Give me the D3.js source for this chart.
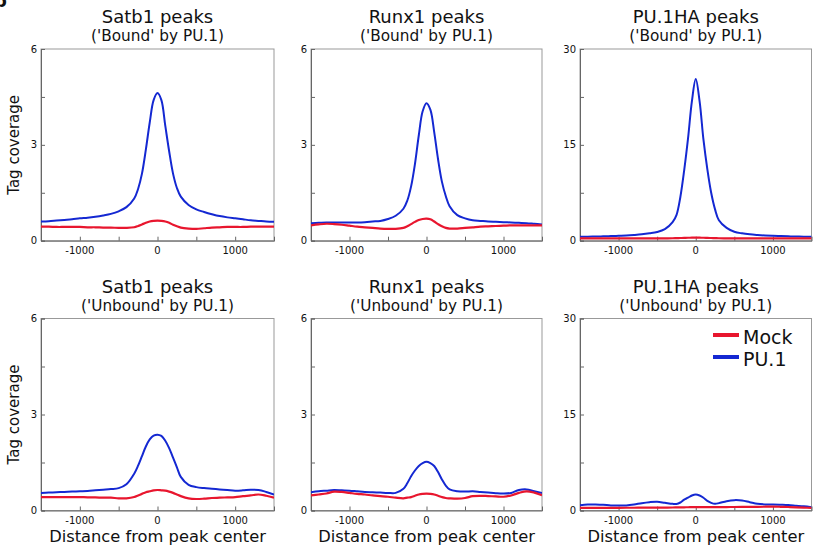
<!DOCTYPE html>
<html>
<head>
<meta charset="utf-8">
<script src="https://cdn.jsdelivr.net/npm/d3@7"></script>
<style>
  body { margin: 0; background: #fff; }
  svg { display: block; }
  text { font-family: "DejaVu Sans", Verdana, sans-serif; fill: #111; }
</style>
</head>
<body>
<div id="chart"></div>
<script>
// distance from peak center (bp)
const distance = [-1500, -1400, -1300, -1200, -1100, -1000, -900, -800, -700, -600, -500, -400, -300, -250, -200, -150, -100, -50,
  0, 50, 100, 150, 200, 250, 300, 400, 500, 600, 700, 800, 900, 1000, 1100, 1200, 1300, 1400, 1500];

// Satb1 peaks, 'Bound' by PU.1
const satb1BoundPU1 = [0.60, 0.61, 0.63, 0.65, 0.67, 0.70, 0.72, 0.75, 0.79, 0.84, 0.92, 1.05, 1.32, 1.62, 2.10, 2.85, 3.70, 4.40,
  4.62, 4.40, 3.60, 2.80, 2.10, 1.65, 1.38, 1.12, 0.98, 0.90, 0.83, 0.77, 0.73, 0.70, 0.67, 0.64, 0.62, 0.60, 0.59];
const satb1BoundMock = [0.44, 0.44, 0.43, 0.43, 0.43, 0.43, 0.42, 0.42, 0.41, 0.41, 0.40, 0.40, 0.42, 0.46, 0.51, 0.56, 0.60, 0.62,
  0.63, 0.62, 0.60, 0.56, 0.50, 0.45, 0.41, 0.38, 0.37, 0.39, 0.41, 0.42, 0.43, 0.43, 0.43, 0.44, 0.44, 0.44, 0.44];

// Runx1 peaks, 'Bound' by PU.1
const runx1BoundPU1 = [0.55, 0.56, 0.57, 0.57, 0.57, 0.57, 0.57, 0.58, 0.60, 0.62, 0.68, 0.78, 1.00, 1.25, 1.70, 2.40, 3.30, 4.05,
  4.30, 4.10, 3.40, 2.55, 1.85, 1.40, 1.08, 0.80, 0.70, 0.64, 0.62, 0.60, 0.59, 0.58, 0.57, 0.56, 0.55, 0.53, 0.51];
const runx1BoundMock = [0.48, 0.51, 0.53, 0.52, 0.50, 0.47, 0.44, 0.42, 0.40, 0.38, 0.37, 0.37, 0.40, 0.45, 0.52, 0.59, 0.65, 0.68,
  0.69, 0.67, 0.60, 0.52, 0.45, 0.40, 0.38, 0.38, 0.40, 0.42, 0.44, 0.45, 0.46, 0.47, 0.48, 0.48, 0.48, 0.48, 0.48];

// PU.1HA peaks, 'Bound' by PU.1
const pu1haBoundPU1 = [0.60, 0.62, 0.65, 0.68, 0.72, 0.77, 0.82, 0.90, 1.00, 1.15, 1.35, 1.80, 2.90, 4.00, 6.80, 11.0, 16.0, 21.8,
  25.3, 21.8, 15.8, 11.2, 7.50, 4.90, 3.20, 2.00, 1.40, 1.15, 1.00, 0.90, 0.82, 0.76, 0.72, 0.68, 0.65, 0.62, 0.60];
const pu1haBoundMock = [0.35, 0.35, 0.35, 0.35, 0.35, 0.35, 0.35, 0.35, 0.35, 0.35, 0.36, 0.37, 0.38, 0.40, 0.42, 0.44, 0.46, 0.47,
  0.48, 0.47, 0.46, 0.44, 0.42, 0.40, 0.38, 0.37, 0.36, 0.35, 0.35, 0.35, 0.35, 0.35, 0.35, 0.35, 0.35, 0.35, 0.35];

// Satb1 peaks, 'Unbound' by PU.1
const satb1UnboundPU1 = [0.55, 0.56, 0.57, 0.58, 0.59, 0.60, 0.61, 0.63, 0.65, 0.67, 0.70, 0.82, 1.15, 1.40, 1.70, 2.00, 2.22, 2.34,
  2.37, 2.33, 2.18, 1.95, 1.65, 1.35, 1.05, 0.80, 0.73, 0.70, 0.68, 0.66, 0.64, 0.62, 0.63, 0.65, 0.64, 0.58, 0.50];
const satb1UnboundMock = [0.42, 0.42, 0.42, 0.42, 0.42, 0.42, 0.41, 0.41, 0.40, 0.40, 0.38, 0.38, 0.42, 0.47, 0.52, 0.57, 0.60, 0.63,
  0.64, 0.63, 0.62, 0.59, 0.55, 0.50, 0.45, 0.38, 0.36, 0.37, 0.39, 0.40, 0.41, 0.42, 0.45, 0.47, 0.50, 0.46, 0.40];

// Runx1 peaks, 'Unbound' by PU.1
const runx1UnboundPU1 = [0.57, 0.60, 0.62, 0.64, 0.63, 0.62, 0.60, 0.58, 0.57, 0.56, 0.55, 0.55, 0.68, 0.85, 1.07, 1.25, 1.39, 1.48,
  1.52, 1.48, 1.39, 1.20, 0.97, 0.78, 0.66, 0.60, 0.59, 0.60, 0.58, 0.56, 0.54, 0.53, 0.55, 0.64, 0.66, 0.60, 0.55];
const runx1UnboundMock = [0.47, 0.50, 0.53, 0.59, 0.58, 0.55, 0.52, 0.50, 0.47, 0.45, 0.43, 0.40, 0.38, 0.40, 0.42, 0.46, 0.50, 0.52,
  0.53, 0.52, 0.50, 0.46, 0.42, 0.39, 0.38, 0.37, 0.39, 0.45, 0.46, 0.45, 0.44, 0.43, 0.47, 0.55, 0.60, 0.56, 0.48];

// PU.1HA peaks, 'Unbound' by PU.1
const pu1haUnboundPU1 = [0.83, 0.94, 0.92, 0.88, 0.80, 0.78, 0.80, 0.94, 1.15, 1.30, 1.36, 1.20, 1.04, 1.02, 1.25, 1.70, 2.00, 2.35,
  2.50, 2.35, 2.00, 1.50, 1.20, 1.05, 1.15, 1.46, 1.62, 1.56, 1.30, 1.04, 0.95, 0.94, 0.90, 0.85, 0.75, 0.65, 0.52];
const pu1haUnboundMock = [0.42, 0.42, 0.42, 0.42, 0.42, 0.42, 0.43, 0.43, 0.44, 0.44, 0.45, 0.46, 0.47, 0.48, 0.49, 0.50, 0.51, 0.52,
  0.52, 0.52, 0.52, 0.52, 0.52, 0.52, 0.53, 0.54, 0.55, 0.56, 0.57, 0.58, 0.59, 0.60, 0.58, 0.55, 0.50, 0.45, 0.40];

const panelTitles = ['Satb1 peaks', 'Runx1 peaks', 'PU.1HA peaks'];
const panelSubtitles = ["('Bound' by PU.1)", "('Unbound' by PU.1)"];
const yMax = [6, 6, 30];
const xTicks = [-1000, -500, 0, 500, 1000];
const xTickLabels = [-1000, 0, 1000];
const seriesNames = ['Mock', 'PU.1'];

const colors = { mock: '#e8162e', pu1: '#1428d2' };

const width = 818;
const height = 551;

// plot frames, per column and row
const colLeft = [41, 311, 580];
const colRight = [274, 542, 811.5];
const rowTop = [49, 318.5];
const rowBottom = [240.7, 510.5];

const panels = [
  { row: 0, col: 0, pu1: satb1BoundPU1, mock: satb1BoundMock },
  { row: 0, col: 1, pu1: runx1BoundPU1, mock: runx1BoundMock },
  { row: 0, col: 2, pu1: pu1haBoundPU1, mock: pu1haBoundMock },
  { row: 1, col: 0, pu1: satb1UnboundPU1, mock: satb1UnboundMock },
  { row: 1, col: 1, pu1: runx1UnboundPU1, mock: runx1UnboundMock },
  { row: 1, col: 2, pu1: pu1haUnboundPU1, mock: pu1haUnboundMock },
];

const svg = d3.select('#chart')
  .append('svg')
  .attr('width', width)
  .attr('height', height);

// panel letter, cut off at the corner as in the source figure
svg.append('text')
  .attr('x', -6)
  .attr('y', 7)
  .style('font-size', '18px')
  .style('font-weight', 'bold')
  .text('b');

panels.forEach((p, i) => {
  const left = colLeft[p.col];
  const right = colRight[p.col];
  const top = rowTop[p.row];
  const bottom = rowBottom[p.row];
  const ymax = yMax[p.col];

  const x = d3.scaleLinear().domain([-1500, 1500]).range([left, right]);
  const y = d3.scaleLinear().domain([0, ymax]).range([bottom, top]);

  const g = svg.append('g');

  // titles
  const cx = (left + right) / 2;
  g.append('text')
    .attr('x', cx)
    .attr('y', top - 26)
    .attr('text-anchor', 'middle')
    .style('font-size', '18px')
    .text(panelTitles[p.col]);
  g.append('text')
    .attr('x', cx)
    .attr('y', top - 8)
    .attr('text-anchor', 'middle')
    .style('font-size', '15.3px')
    .text(panelSubtitles[p.row]);

  // frame
  g.append('rect')
    .attr('x', left)
    .attr('y', top)
    .attr('width', right - left)
    .attr('height', bottom - top)
    .attr('fill', 'none')
    .attr('stroke', '#999')
    .attr('stroke-width', 1);

  // inward ticks
  const yAxis = d3.axisRight(y)
    .tickValues(d3.range(0, ymax + 0.001, ymax / 4))
    .tickSize(4)
    .tickFormat('');
  g.append('g')
    .attr('transform', `translate(${left},0)`)
    .call(yAxis)
    .call(a => a.select('.domain').attr('stroke', '#666'))
    .call(a => a.selectAll('line').attr('stroke', '#666'));

  const xAxis = d3.axisTop(x)
    .tickValues(xTicks)
    .tickSize(4)
    .tickFormat('');
  g.append('g')
    .attr('transform', `translate(0,${bottom})`)
    .call(xAxis)
    .call(a => a.select('.domain').attr('stroke', '#666'))
    .call(a => a.selectAll('line').attr('stroke', '#666'));

  // tick labels
  g.selectAll('.ylab')
    .data([0, ymax / 2, ymax])
    .enter()
    .append('text')
    .attr('x', left - 4)
    .attr('y', d => y(d) + 3.6)
    .attr('text-anchor', 'end')
    .style('font-size', '10px')
    .text(d => d);

  g.selectAll('.xlab')
    .data(xTickLabels)
    .enter()
    .append('text')
    .attr('x', d => x(d))
    .attr('y', bottom + 13.5)
    .attr('text-anchor', 'middle')
    .style('font-size', '10px')
    .text(d => d);

  // curves
  const clipId = `clip${i}`;
  g.append('clipPath')
    .attr('id', clipId)
    .append('rect')
    .attr('x', left)
    .attr('y', top)
    .attr('width', right - left)
    .attr('height', bottom - top);

  const line = d3.line()
    .x((d, j) => x(distance[j]))
    .y(d => y(d))
    .curve(d3.curveCatmullRom.alpha(0.5));

  const curves = g.append('g').attr('clip-path', `url(#${clipId})`);
  curves.append('path')
    .attr('d', line(p.pu1))
    .attr('fill', 'none')
    .attr('stroke', colors.pu1)
    .attr('stroke-width', 2);
  curves.append('path')
    .attr('d', line(p.mock))
    .attr('fill', 'none')
    .attr('stroke', colors.mock)
    .attr('stroke-width', 2.2);

  // axis titles
  if (p.col === 0) {
    g.append('text')
      .attr('transform', `translate(18.5,${(top + bottom) / 2}) rotate(-90)`)
      .attr('text-anchor', 'middle')
      .style('font-size', '15px')
      .text('Tag coverage');
  }
  if (p.row === 1) {
    g.append('text')
      .attr('x', cx)
      .attr('y', 541.5)
      .attr('text-anchor', 'middle')
      .style('font-size', '16.3px')
      .text('Distance from peak center');
  }
});

// legend
const legend = svg.append('g');
const legendColors = [colors.mock, colors.pu1];
const legendY = [335, 357];
seriesNames.forEach((name, i) => {
  legend.append('line')
    .attr('x1', 713)
    .attr('x2', 739)
    .attr('y1', legendY[i])
    .attr('y2', legendY[i])
    .attr('stroke', legendColors[i])
    .attr('stroke-width', 4);
  legend.append('text')
    .attr('x', 743)
    .attr('y', legendY[i] + 8.5)
    .style('font-size', '19px')
    .text(name);
});
</script>
</body>
</html>
